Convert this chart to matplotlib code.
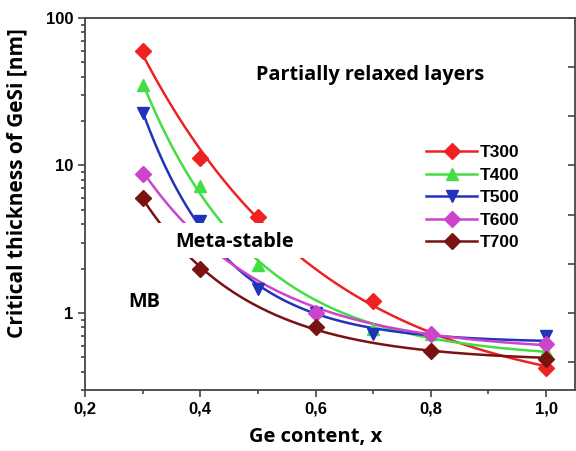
import numpy as np
import matplotlib
matplotlib.use('Agg')
import matplotlib.pyplot as plt
from matplotlib.lines import Line2D
from matplotlib.patches import Rectangle
from matplotlib.ticker import FixedLocator, NullFormatter, LogLocator

# data
labels = ['T300', 'T400', 'T500', 'T600', 'T700']
colors = ['#ee2222', '#44dd44', '#2233bb', '#cc44cc', '#7a1212']
markers = ['D', '^', 'v', 'D', 'D']

x300 = [0.3, 0.4, 0.5, 0.7, 1.0]
y300 = [60, 11.3, 4.5, 1.2, 0.42]
x400 = [0.3, 0.4, 0.5, 0.7, 0.8, 1.0]
y400 = [35, 7.2, 2.1, 0.78, 0.72, 0.55]
x500 = [0.3, 0.4, 0.5, 0.6, 0.7, 1.0]
y500 = [22.6, 4.2, 1.45, 1.0, 0.72, 0.70]
x600 = [0.3, 0.4, 0.6, 0.8, 1.0]
y600 = [8.8, 3.5, 1.0, 0.72, 0.62]
x700 = [0.3, 0.4, 0.6, 0.8, 1.0]
y700 = [6.0, 2.0, 0.8, 0.55, 0.49]

xs = [x300, x400, x500, x600, x700]
ys = [y300, y400, y500, y600, y700]


def fit_curve(x, y):
    # log10(y) = a + b*exp(-k*(x-0.3)), grid search over k
    x = np.asarray(x)
    ly = np.log10(y)
    best = None
    for k in np.linspace(0.5, 30, 300):
        e = np.exp(-k * (x - 0.3))
        M = np.column_stack([np.ones_like(e), e])
        coef, res, *_ = np.linalg.lstsq(M, ly, rcond=None)
        err = np.sum((M @ coef - ly) ** 2)
        if best is None or err < best[0]:
            best = (err, k, coef)
    _, k, (a, b) = best
    xf = np.linspace(0.3, 1.0, 200)
    return xf, 10 ** (a + b * np.exp(-k * (xf - 0.3)))


fig = plt.figure(figsize=(5.76, 4.51), dpi=100)
ax = fig.add_axes([0.1476, 0.1353, 0.8505, 0.8247])

for x, y, c, m in zip(xs, ys, colors, markers):
    xf, yf = fit_curve(x, y)
    ax.plot(xf, yf, color=c, lw=1.8, zorder=2)
    ax.plot(x, y, ls='none', marker=m, color=c, ms=8 if m == 'D' else 9,
            mec=c, zorder=3)

# white band behind the "Meta-stable" label
ax.add_patch(Rectangle((0.25, 2.35), 0.4, 4.1 - 2.35, facecolor='white',
                       edgecolor='none', zorder=4))

ax.set_yscale('log')
ax.set_xlim(0.2, 1.05)
ax.set_ylim(0.3, 100)

ax.set_xticks([0.2, 0.4, 0.6, 0.8, 1.0])
ax.set_xticklabels(['0,2', '0,4', '0,6', '0,8', '1,0'])
ax.xaxis.set_minor_locator(FixedLocator([0.3, 0.5, 0.7, 0.9]))
ax.set_yticks([1, 10, 100])
ax.set_yticklabels(['1', '10', '100'])
ax.yaxis.set_minor_locator(LogLocator(base=10, subs=np.arange(2, 10)))
ax.yaxis.set_minor_formatter(NullFormatter())

ax.tick_params(which='both', direction='out', right=False, top=False,
               width=1.2, color='#444444')
ax.tick_params(which='major', length=5)
ax.tick_params(which='minor', length=3)
for lab in ax.get_xticklabels() + ax.get_yticklabels():
    lab.set_fontfamily('Liberation Sans')
    lab.set_fontweight('bold')
    lab.set_fontsize(12)
for s in ax.spines.values():
    s.set_color('#444444')
    s.set_linewidth(1.3)

# right side ticks, every third of a decade, no labels
ax2 = ax.twinx()
ax2.set_yscale('log')
ax2.set_ylim(ax.get_ylim())
ax2.yaxis.set_major_locator(FixedLocator(10 ** (np.arange(-2, 7) / 3)))
ax2.yaxis.set_minor_locator(FixedLocator([]))
ax2.yaxis.set_major_formatter(NullFormatter())
ax2.tick_params(axis='y', direction='in', length=5, width=1.2, color='#444444')
for s in ax2.spines.values():
    s.set_visible(False)

ax.set_xlabel('Ge content, x', fontsize=14.5, fontweight='bold',
              family='Open Sans')
ax.xaxis.set_label_coords(0.471, -0.10)
ax.set_ylabel('Critical thickness of GeSi [nm]', fontsize=15,
              fontweight='bold', family='Open Sans')
ax.yaxis.set_label_coords(-0.118, 0.556)

ax.text(0.349, 0.847, 'Partially relaxed layers', transform=ax.transAxes,
        fontsize=14.3, fontweight='bold', family='Open Sans', va='center',
        zorder=5)
ax.text(0.184, 0.398, 'Meta-stable', transform=ax.transAxes,
        fontsize=14.3, fontweight='bold', family='Open Sans', va='center',
        zorder=5)
ax.text(0.088, 0.237, 'MB', transform=ax.transAxes,
        fontsize=14.3, fontweight='bold', family='Open Sans', va='center',
        zorder=5)

handles = [Line2D([], [], color=c, lw=1.8, marker=m, ms=8 if m == 'D' else 9)
           for c, m in zip(colors, markers)]
leg = ax.legend(handles, labels, loc='upper left',
                bbox_to_anchor=(0.665, 0.70), frameon=False,
                prop={'family': 'Liberation Sans', 'weight': 'bold', 'size': 12.5},
                handlelength=2.9, handletextpad=0.2, labelspacing=0.42)
leg.set_zorder(6)

fig.savefig('out.png', dpi=100)
